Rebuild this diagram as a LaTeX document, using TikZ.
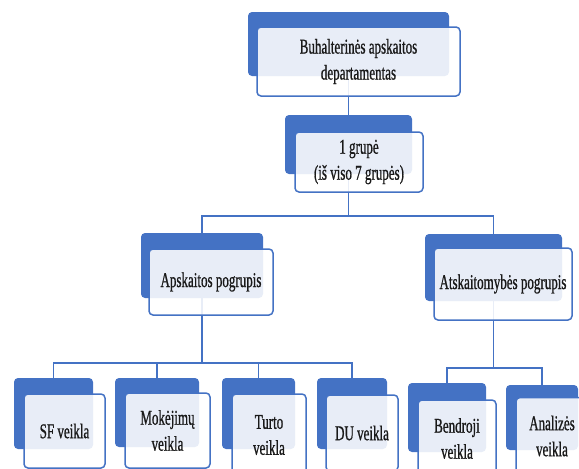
\documentclass[tikz,border=0pt]{standalone}
\usepackage{fontspec}
\setmainfont[FakeStretch=0.62,FakeBold=0.8]{Liberation Serif}
\usepackage{tikz}
\definecolor{orgblue}{HTML}{4472C4}
\tikzset{
    backbox/.style={draw=none, fill=orgblue, rounded corners=4pt, inner sep=0pt},
    frontbox/.style={draw=orgblue, line width=1.5pt, fill=white, fill opacity=0.88, text opacity=1,
        rounded corners=4pt, inner sep=0pt, align=center, text=black!90,
        font=\fontsize{21}{26}\selectfont},
    link/.style={draw=orgblue, line width=1.3pt}
}

\begin{document}
\begin{tikzpicture}[x=1pt,y=-1pt]
    \useasboundingbox (0,0) rectangle (579,469);
    \clip (0,0) rectangle (579,469);

    % back boxes
    \node[backbox, minimum width=201, minimum height=64] at (348.5,44) (bTop) {};
    \node[backbox, minimum width=127, minimum height=59] at (348.5,144.5) (bGroup) {};
    \node[backbox, minimum width=122, minimum height=65] at (202,265.5) (bApsk) {};
    \node[backbox, minimum width=137, minimum height=67] at (493.5,267.5) (bAtsk) {};
    \node[backbox, minimum width=79, minimum height=71] at (53.5,413.5) (bSF) {};
    \node[backbox, minimum width=84, minimum height=69] at (157,412.5) (bMok) {};
    \node[backbox, minimum width=73, minimum height=71] at (258.5,413.5) (bTurto) {};
    \node[backbox, minimum width=70, minimum height=71] at (352,413.5) (bDU) {};
    \node[backbox, minimum width=78, minimum height=69] at (447,417.5) (bBend) {};
    \node[backbox, minimum width=72, minimum height=65] at (542,417.5) (bAnal) {};

    % connectors
    \coordinate (jGroup) at (348.5,216);
    \coordinate (jApsk) at (202,363);
    \coordinate (jAtsk) at (493.5,368);
    \path[link] (bTop.south) -- (bGroup.north);
    \path[link] (bGroup.south) -- (jGroup) -| (bApsk.north);
    \path[link] (jGroup) -| (bAtsk.north);
    \path[link] (bApsk.south) -- (jApsk);
    \foreach \n in {bSF,bMok,bTurto,bDU}
        \path[link] (jApsk) -| (\n.north);
    \path[link] (bAtsk.south) -- (jAtsk) -| (bBend.north);
    \path[link] (jAtsk) -| (bAnal.north);

    % front boxes
    \node[frontbox, minimum width=203, minimum height=69] at (358.5,61.5) (fTop) {Buhalterinės apskaitos\\departamentas};
    \node[frontbox, minimum width=128, minimum height=60] at (359,162) (fGroup) {1 grupė\\(iš viso 7 grupės)};
    \node[frontbox, minimum width=124, minimum height=66] at (211,282) (fApsk) {Apskaitos pogrupis};
    \node[frontbox, minimum width=138, minimum height=72] at (503,284) (fAtsk) {Atskaitomybės pogrupis};
    \node[frontbox, minimum width=81, minimum height=74] at (64.5,431) (fSF) {SF veikla};
    \node[frontbox, minimum width=85, minimum height=75] at (167.5,430.5) (fMok) {Mokėjimų\\veikla};
    \node[frontbox, minimum width=74, minimum height=82] at (269,435) (fTurto) {Turto\\veikla};
    \node[frontbox, minimum width=72, minimum height=76] at (362,433) (fDU) {DU veikla};
    \node[frontbox, minimum width=78, minimum height=77] at (457,438.5) (fBend) {Bendroji\\veikla};
    \node[frontbox, minimum width=72, minimum height=77] at (552,436) (fAnal) {Analizės\\veikla};
\end{tikzpicture}
\end{document}
